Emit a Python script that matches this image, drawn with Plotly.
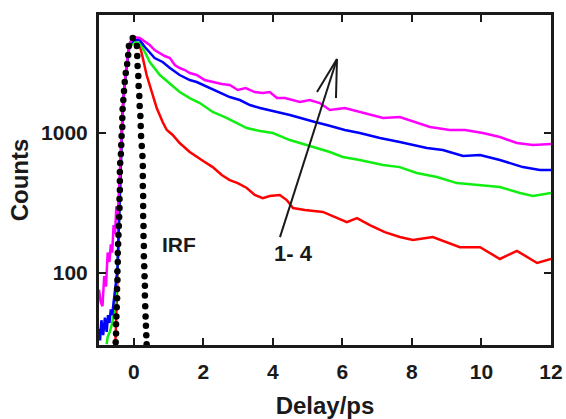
import plotly.graph_objects as go

# ---- data (delay in ps, counts) ----
mag_x = [-1.0, -0.95, -0.90, -0.85, -0.80, -0.75, -0.70, -0.66, -0.62, -0.58, -0.54, -0.50, -0.46, -0.42, -0.38, -0.35,
         -0.30, -0.24, -0.17, -0.10, 0.0,
         0.17, 0.32, 0.46, 0.60, 0.75, 0.89, 1.04, 1.18, 1.32, 1.47, 1.61, 1.81, 2.04, 2.27, 2.53, 2.76, 2.99, 3.22, 3.48, 3.71,
         3.91, 4.12, 4.35, 4.78, 5.06, 5.35, 5.64, 6.07, 6.50, 6.85, 7.17, 7.65, 8.09, 8.52, 9.09, 9.53, 10.04, 10.53, 11.02,
         11.48, 12.0]
mag_y = [76, 62, 58, 95, 80, 140, 120, 160, 140, 220, 190, 300, 260, 400, 591, 968,
         1721, 2596, 3607, 4467, 4851,
         4771, 4467, 4252, 3916, 3728, 3548, 3434, 3060, 2912, 2818, 2683, 2596, 2391, 2314, 2239, 2203, 2029, 2096, 1963, 1931,
         1963, 1778, 1778, 1665, 1721, 1638, 1460, 1509, 1413, 1345, 1280, 1301, 1198, 1104, 1050, 1050, 1000, 936, 848,
         821, 835]

blu_x = [-1.0, -0.97, -0.93, -0.88, -0.83, -0.78, -0.74, -0.70, -0.66, -0.62, -0.58, -0.54, -0.50, -0.47, -0.44, -0.41,
         -0.37, -0.32, -0.24, -0.17, -0.12, 0.0,
         0.17, 0.32, 0.46, 0.60, 0.83, 1.04, 1.32, 1.61, 1.81, 2.19, 2.47, 2.76, 3.05, 3.34, 3.63, 3.91, 4.12, 4.49, 4.78,
         5.21, 5.55, 6.07, 6.50, 7.08, 7.65, 8.43, 8.89, 9.47, 9.96, 10.53, 11.19, 11.68, 12.0]
blu_y = [40, 33, 46, 36, 48, 38, 50, 44, 55, 50, 62, 75, 92, 105, 178, 332,
         756, 1460, 2596, 3607, 4252, 4616,
         4616, 4115, 3728, 3434, 3216, 2912, 2596, 2391, 2314, 2096, 1931, 1808, 1721, 1585, 1509, 1460, 1413, 1345, 1280,
         1198, 1141, 1050, 1000, 921, 862, 781, 756, 685, 696, 641, 571, 544, 544]

grn_x = [-0.78, -0.75, -0.69, -0.63, -0.58, -0.52, -0.47, -0.44, -0.41, -0.37, -0.32, -0.25, -0.18, -0.14, 0.0,
         0.17, 0.32, 0.46, 0.75, 1.04, 1.32, 1.61, 1.90, 2.27, 2.62, 2.91, 3.25, 3.63, 4.0, 4.49, 5.15, 5.64, 6.01, 6.50,
         7.17, 7.65, 8.14, 8.72, 9.29, 10.04, 10.53, 11.11, 11.48, 12.0]
grn_y = [31, 35, 38, 43, 50, 64, 105, 187, 361, 756, 1460, 2391, 3322, 4047, 4467,
         4394, 3790, 3216, 2596, 2239, 1963, 1778, 1638, 1413, 1301, 1198, 1086, 1033, 1000, 891, 794, 732, 674, 641,
         591, 571, 518, 485, 439, 425, 411, 373, 355, 373]

red_x = [-0.53, -0.50, -0.47, -0.44, -0.41, -0.37, -0.32, -0.25, -0.18, -0.14, 0.0,
         0.17, 0.26, 0.37, 0.52, 0.66, 0.83, 0.95, 1.12, 1.32, 1.61, 1.81, 2.04, 2.27, 2.53, 2.76, 2.99, 3.25, 3.48, 3.71,
         3.91, 4.20, 4.40, 4.58, 4.92, 5.44, 5.78, 6.13, 6.42, 6.79, 7.22, 7.65, 8.03, 8.60, 9.38, 9.96, 10.53, 11.02,
         11.60, 12.0]
red_y = [31, 46, 89, 172, 361, 756, 1460, 2391, 3322, 4047, 4467,
         4252, 3434, 2596, 1963, 1509, 1198, 1050, 968, 848, 732, 674, 621, 571, 501, 461, 439, 405, 361, 343,
         355, 361, 332, 291, 282, 273, 251, 231, 247, 220, 196, 181, 172, 181, 153, 153, 126, 144,
         118, 126]

irf_x = [-0.52, -0.51, -0.51, -0.50, -0.49, -0.48, -0.48, -0.47, -0.47, -0.46, -0.46, -0.45, -0.44, -0.43, -0.42,
         -0.41, -0.41, -0.40, -0.40, -0.40, -0.39, -0.37, -0.36, -0.35, -0.33, -0.33, -0.32, -0.30, -0.28, -0.26,
         -0.23, -0.19, -0.16, -0.14, -0.03,
         0.09, 0.10, 0.11, 0.13, 0.14, 0.16, 0.17, 0.19, 0.20, 0.21, 0.23, 0.25, 0.26, 0.26, 0.26, 0.27, 0.27, 0.27,
         0.28, 0.28, 0.29, 0.29, 0.30, 0.31, 0.32, 0.32, 0.33, 0.34, 0.35, 0.36, 0.37]
irf_y = [32, 37, 43, 49, 57, 66, 77, 89, 103, 120, 139, 161, 187, 217, 251,
         291, 338, 392, 454, 526, 611, 708, 821, 952, 1104, 1280, 1484, 1721, 1995, 2314,
         2683, 3111, 3607, 4182, 4771,
         4182, 3548, 3010, 2554, 2167, 1838, 1560, 1323, 1122, 952, 807, 685, 581, 493, 418, 355, 301, 255,
         217, 184, 156, 132, 112, 95, 81, 69, 58, 49, 42, 36, 31]

x_ticks = [0, 2, 4, 6, 8, 10, 12]
y_ticks = [100, 1000]
y_ticktext = ["100", "1000"]

FONT = "Liberation Sans, Arial, sans-serif"
INK = "#1a1a1a"

fig = go.Figure()
for xs, ys, col in [(red_x, red_y, "#ff0000"), (grn_x, grn_y, "#11ee11"),
                    (blu_x, blu_y, "#0000ff"), (mag_x, mag_y, "#ff00ff")]:
    fig.add_trace(go.Scatter(x=xs, y=ys, mode="lines",
                             line=dict(color=col, width=2.5), showlegend=False))
fig.add_trace(go.Scatter(x=irf_x, y=irf_y, mode="markers",
                         marker=dict(color="black", size=6.5), showlegend=False))

axis_common = dict(showline=True, linecolor=INK, linewidth=3, mirror="ticks",
                   ticks="inside", ticklen=7, tickwidth=1.5, tickcolor=INK,
                   showgrid=False, zeroline=False, automargin=False,
                   tickfont=dict(family=FONT, size=21, color=INK, weight="bold"))

fig.update_xaxes(range=[-1.0, 12.0], tickvals=x_ticks, ticklabelstandoff=6,
                 title=dict(text="Delay/ps", font=dict(family=FONT, size=24, color=INK, weight="bold"),
                            standoff=18),
                 **axis_common)
fig.update_yaxes(type="log", range=[1.486, 3.843], tickvals=y_ticks, ticktext=y_ticktext,
                 ticklabelstandoff=4,
                 title=dict(text="Counts", font=dict(family=FONT, size=24, color=INK, weight="bold"),
                            standoff=6),
                 **axis_common)

fig.add_annotation(x=0.135, y=0.264, xref="paper", yref="paper", xanchor="left", text="IRF",
                   showarrow=False, font=dict(family=FONT, size=21, color=INK, weight="bold"))
fig.add_annotation(x=0.383, y=0.233, xref="paper", yref="paper", xanchor="left", text="1- 4",
                   showarrow=False, font=dict(family=FONT, size=22, color=INK, weight="bold"))

# arrow 1 -> 4
fig.add_shape(type="line", xref="paper", yref="paper", x0=0.4004, y0=0.327, x1=0.5265, y1=0.8667,
              line=dict(color=INK, width=2))
fig.add_shape(type="line", xref="paper", yref="paper", x0=0.5265, y0=0.8667, x1=0.4823, y1=0.7667,
              line=dict(color=INK, width=2))
fig.add_shape(type="line", xref="paper", yref="paper", x0=0.5265, y0=0.8667, x1=0.5243, y1=0.7485,
              line=dict(color=INK, width=2))

fig.update_layout(width=566, height=419, margin=dict(l=99, r=15, t=15, b=74),
                  paper_bgcolor="white", plot_bgcolor="white")

fig.write_html("out.html")
